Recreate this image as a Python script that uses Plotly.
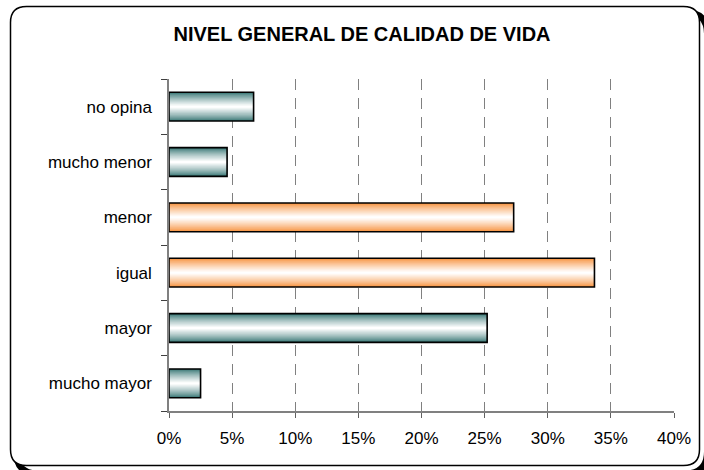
import plotly.graph_objects as go

categories = ["mucho mayor", "mayor", "igual", "menor", "mucho menor", "no opina"]
values = [2.5, 25.2, 33.7, 27.3, 4.6, 6.7]
highlight = [False, False, True, True, False, False]
x_ticks = [0, 5, 10, 15, 20, 25, 30, 35, 40]
x_tick_labels = ["0%", "5%", "10%", "15%", "20%", "25%", "30%", "35%", "40%"]
title_text = "NIVEL GENERAL DE CALIDAD DE VIDA"

W, H = 704, 470
ML, MR, MT, MB = 169, 30, 79, 59
PW, PH = W - ML - MR, H - MT - MB

teal_edge = (55, 118, 116)
orange_edge = (247, 145, 60)
white = (255, 255, 255)
bar_w = 0.52
N = 14

def mix(a, b, t):
    return "rgb(%d,%d,%d)" % tuple(round(a[i] + (b[i] - a[i]) * t) for i in range(3))

fig = go.Figure()
for k in range(N):
    t = (k / (N - 1)) ** 0.8
    w = bar_w * (1 - k / N)
    colors = [mix(orange_edge if h else teal_edge, white, t) for h in highlight]
    fig.add_trace(go.Bar(
        y=categories, x=values, orientation="h", width=w,
        marker=dict(color=colors, line=dict(width=0)),
        showlegend=False, hoverinfo="skip"))
fig.add_trace(go.Bar(
    y=categories, x=values, orientation="h", width=bar_w,
    marker=dict(color="rgba(0,0,0,0)", line=dict(color="black", width=1.6)),
    showlegend=False, hovertemplate="%{y}: %{x}%<extra></extra>"))

def px2paper(x, y):
    return (x - ML) / PW, (H - MB - y) / PH

def rounded_rect(x0, y0, x1, y1, r):
    def P(x, y):
        a, b = px2paper(x, y)
        return "%f,%f" % (a, b)
    path = "M " + P(x0 + r, y0)
    path += " L " + P(x1 - r, y0)
    path += " Q " + P(x1, y0) + " " + P(x1, y0 + r)
    path += " L " + P(x1, y1 - r)
    path += " Q " + P(x1, y1) + " " + P(x1 - r, y1)
    path += " L " + P(x0 + r, y1)
    path += " Q " + P(x0, y1) + " " + P(x0, y1 - r)
    path += " L " + P(x0, y0 + r)
    path += " Q " + P(x0, y0) + " " + P(x0 + r, y0)
    path += " Z"
    return path

# shadow (mostly outside the visible page, only the bottom-right corner shows)
fig.add_shape(type="path", xref="paper", yref="paper", layer="below",
              path=rounded_rect(16, 12, 707, 473.5, 22),
              line=dict(color="black", width=6))
fig.add_shape(type="path", xref="paper", yref="paper", layer="below",
              path=rounded_rect(10.5, 6.5, 699.5, 465.5, 16),
              line=dict(color="black", width=1.5), fillcolor="white")

fig.update_layout(
    width=W, height=H,
    margin=dict(l=ML, r=MR, t=MT, b=MB),
    paper_bgcolor="white", plot_bgcolor="rgba(0,0,0,0)",
    barmode="overlay",
    font=dict(family="Liberation Sans, Arial, sans-serif", size=17, color="black"),
    title=dict(text="<b>" + title_text + "</b>", x=362 / W, xanchor="center",
               y=1 - 34 / H, yanchor="middle",
               font=dict(size=20, family="Liberation Sans, Arial, sans-serif", color="black")),
    xaxis=dict(range=[0, 40], tickvals=x_ticks, ticktext=x_tick_labels,
               showgrid=True, gridcolor="#808080", gridwidth=1, griddash="11px,8px",
               showline=True, linecolor="#808080", linewidth=1.5,
               ticks="outside", ticklen=5, tickcolor="#606060", tickwidth=1,
               zeroline=False, fixedrange=True, ticklabelstandoff=6),
    yaxis=dict(categoryorder="array", categoryarray=categories,
               showline=True, linecolor="#808080", linewidth=1.5,
               ticks="outside", ticklen=6, tickcolor="#404040", tickwidth=1,
               tickson="boundaries", showgrid=False, ticklabelstandoff=12,
               fixedrange=True),
)

fig.write_html("out.html", config={"displayModeBar": False},
               post_script="document.body.style.margin='0';")
